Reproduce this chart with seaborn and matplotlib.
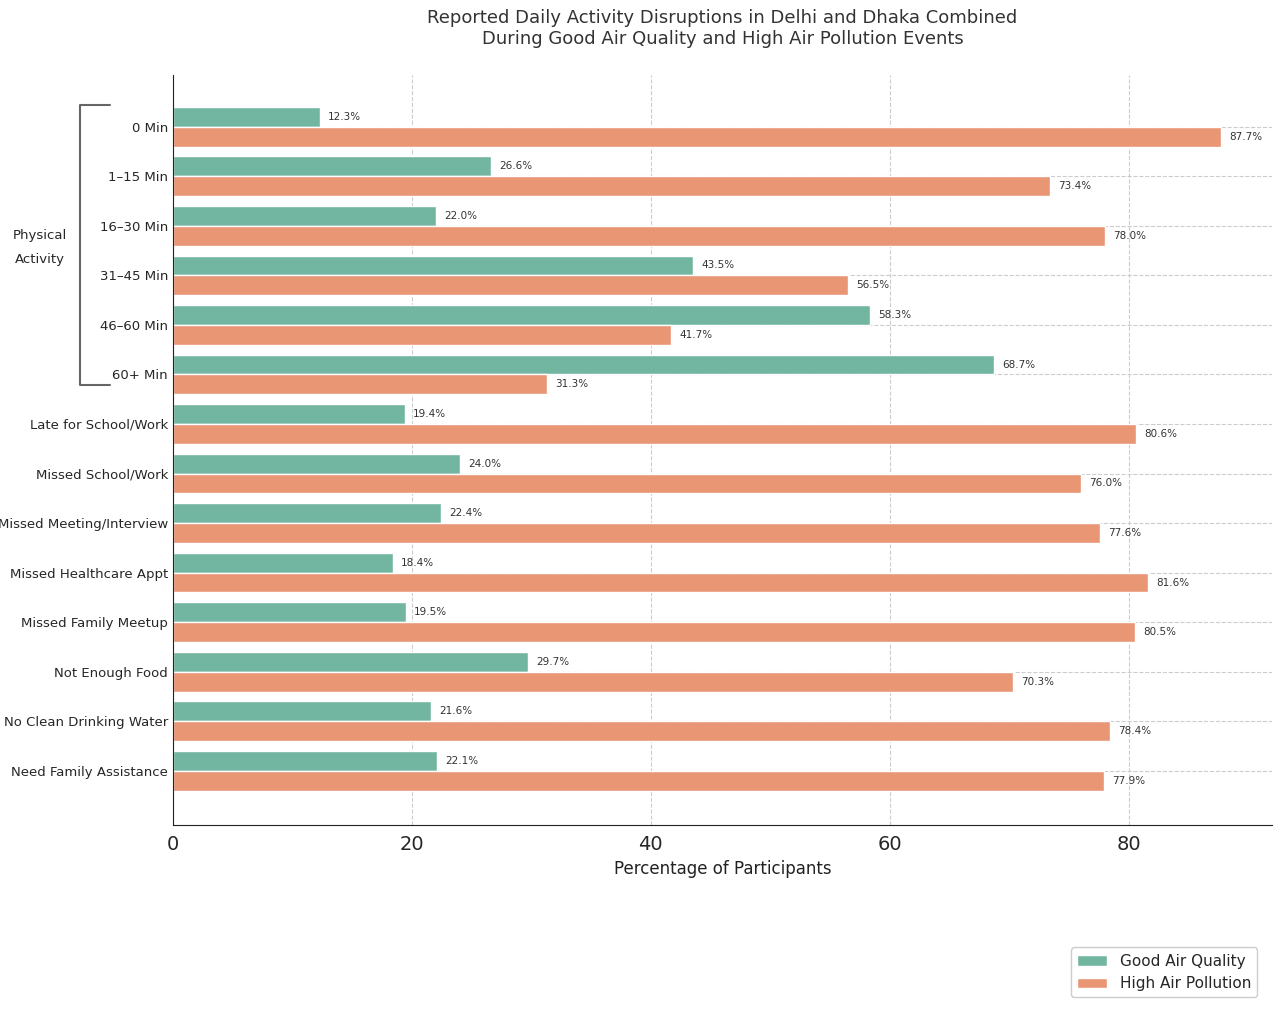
import pandas as pd
import matplotlib.pyplot as plt
import seaborn as sns

# --- Data ---
categories = ["0 Min", "1\u201315 Min", "16\u201330 Min", "31\u201345 Min", "46\u201360 Min", "60+ Min",
              "Late for School/Work", "Missed School/Work", "Missed Meeting/Interview",
              "Missed Healthcare Appt", "Missed Family Meetup", "Not Enough Food",
              "No Clean Drinking Water", "Need Family Assistance"]
good_air = [12.3, 26.6, 22.0, 43.5, 58.3, 68.7, 19.4, 24.0, 22.4, 18.4, 19.5, 29.7, 21.6, 22.1]
high_pollution = [87.7, 73.4, 78.0, 56.5, 41.7, 31.3, 80.6, 76.0, 77.6, 81.6, 80.5, 70.3, 78.4, 77.9]
series_names = ["Good Air Quality", "High Air Pollution"]

df = pd.DataFrame({
    "Category": categories * 2,
    "Percent": good_air + high_pollution,
    "Condition": [series_names[0]] * len(categories) + [series_names[1]] * len(categories),
})

# --- Plot ---
sns.set_style("white")
fig = plt.figure(figsize=(12.8, 10.09), dpi=100)
ax = fig.add_axes([0.135, 0.182, 0.859, 0.744])

sns.barplot(data=df, y="Category", x="Percent", hue="Condition", orient="h",
            palette=["#66c2a5", "#fc8d62"], width=0.8, ax=ax, legend=True)

for cont in ax.containers:
    ax.bar_label(cont, fmt="%.1f%%", fontsize=7.5, padding=6, color="#333333")

ax.set_xlim(0, 92)
ax.set_ylim(14.1, -1.05)
ax.grid(True, linestyle="--", color="#cccccc", linewidth=0.8)
ax.set_axisbelow(True)
for s in ["top", "right"]:
    ax.spines[s].set_visible(False)
ax.spines["left"].set_color("#222222")
ax.spines["bottom"].set_color("#222222")

ax.set_ylabel("")
ax.set_xlabel("Percentage of Participants", fontsize=12, color="#222222")
ax.tick_params(axis="x", labelsize=14)
ax.tick_params(axis="y", labelsize=9.5, length=0)

ax.set_title("Reported Daily Activity Disruptions in Delhi and Dhaka Combined\nDuring Good Air Quality and High Air Pollution Events",
             fontsize=13, color="#333333", pad=22)

# Physical Activity bracket
fig.add_artist(plt.Line2D([110 / 1280, 80 / 1280, 80 / 1280, 110 / 1280],
                          [1 - 105 / 1009, 1 - 105 / 1009, 1 - 385 / 1009, 1 - 385 / 1009],
                          color="#666666", linewidth=1.5))
fig.text(40 / 1280, 1 - 247 / 1009, "Physical\n\nActivity", ha="center", va="center",
         fontsize=9.5, linespacing=0.9)

ax.legend_.remove()
handles, labels = ax.get_legend_handles_labels()
fig.legend(handles, labels, loc="lower right", bbox_to_anchor=(0.988, 0.004),
           fontsize=11, framealpha=1, edgecolor="#cccccc")

fig.savefig("out.png", dpi=100)
